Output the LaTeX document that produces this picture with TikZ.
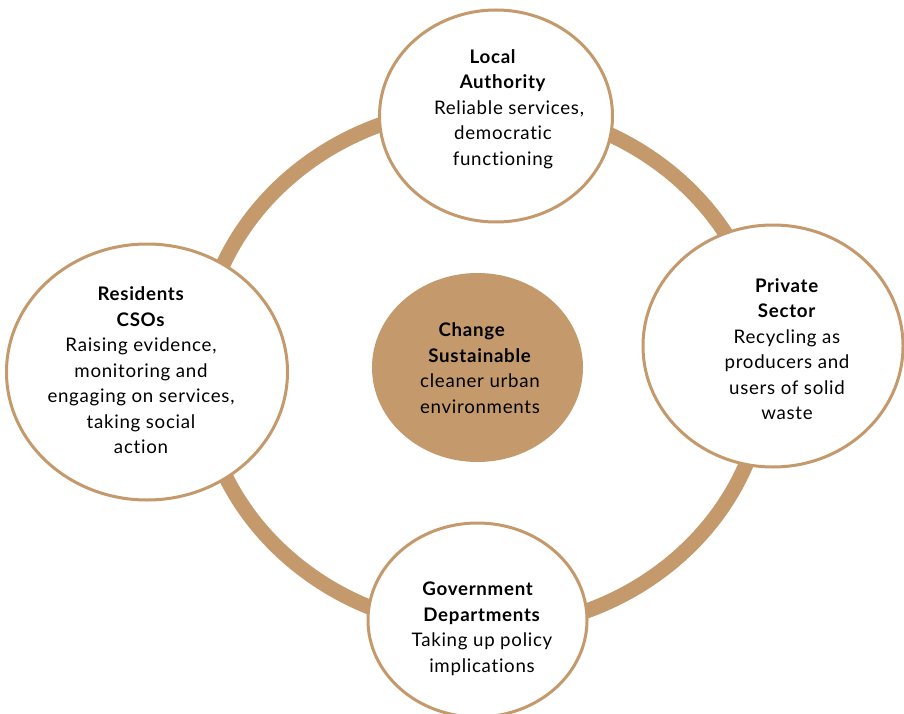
\documentclass[tikz,border=0pt]{standalone}
\usepackage{fontspec}
\setmainfont{Lato}[LetterSpace=3.8, Ligatures=NoCommon]
\usetikzlibrary{shapes.geometric}
\definecolor{tanc}{RGB}{196,153,108}
\newcommand{\shl}[2]{#2\hspace*{#1}}
\begin{document}
\begin{tikzpicture}[x=1pt,y=-1pt,
  ring/.style={draw=tanc, line width=15pt},
  actor/.style={ellipse, draw=tanc, line width=3pt, fill=white, inner sep=0pt},
  hub/.style={ellipse, fill=tanc, draw=none, inner sep=0pt},
  txt/.style={align=center, inner sep=0pt, text=black, font=\fontsize{18.7}{25.5}\selectfont}]
\useasboundingbox (0,0) rectangle (904,714);
\fill[white] (0,0) rectangle (904,714);
\coordinate (ringc) at (483,368);
\draw[ring] (ringc) ellipse [x radius=283pt, y radius=261pt];

\node[actor, minimum width=233pt, minimum height=212pt] (la) at (496,116) {};
\node[actor, minimum width=281pt, minimum height=256pt] (rc) at (147,372) {};
\node[actor, minimum width=260pt, minimum height=242pt] (ps) at (773,346) {};
\node[actor, minimum width=219pt, minimum height=194pt] (gd) at (477.5,620) {};
\node[hub, minimum width=211pt, minimum height=189pt] (cs) at (477.5,367.5) {};

\node[txt] (lat) at (503,109) {\shl{20pt}{\textbf{Local}}\\\textbf{Authority}\\\hspace*{12pt}Reliable services,\\democratic\\functioning};
\node[txt] (rct) at (141,370.6) {\textbf{Residents}\\\textbf{CSOs}\\Raising evidence,\\monitoring and\\engaging on services,\\taking social\\action};
\node[txt] (pst) at (787,349) {\textbf{Private}\\\textbf{Sector}\\Recycling as\\producers and\\users of solid\\waste};
\node[txt] (gdt) at (482,628.6) {\shl{8pt}{\textbf{Government}}\\\textbf{Departments}\\Taking up policy\\implications};
\node[txt] (cst) at (480,368) {\shl{16pt}{\textbf{Change}}\\\shl{12pt}{\textbf{Sustainable}}\\cleaner urban\\environments};
\end{tikzpicture}
\end{document}
